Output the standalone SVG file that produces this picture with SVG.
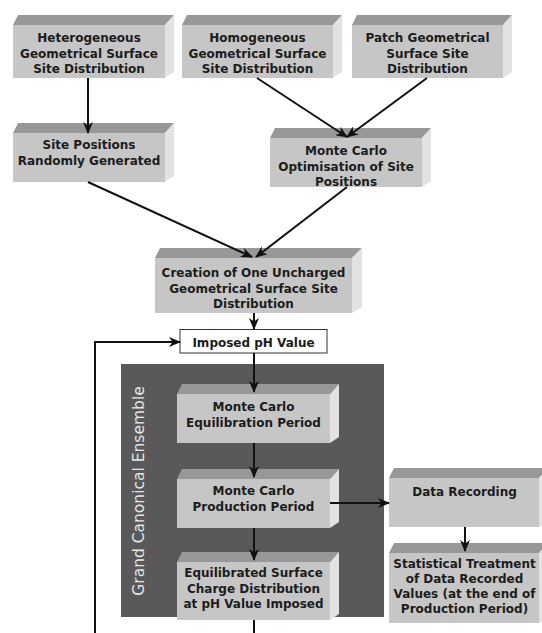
<svg xmlns="http://www.w3.org/2000/svg" width="542" height="633" viewBox="0 0 542 633">
<defs>
<style>
.front{fill:#c6c6c6}
.top{fill:#989898}
.side{fill:#e2e2e2}
.t{font-family:"DejaVu Sans",Verdana,sans-serif;font-weight:bold;font-size:12px;fill:#1c1c1c;text-anchor:middle}
.c{fill:none;stroke:#111;stroke-width:2}
</style>
<marker id="ah" viewBox="0 0 12 10" refX="11" refY="5" markerWidth="12" markerHeight="10" markerUnits="userSpaceOnUse" orient="auto">
<path d="M0,0 L12,5 L0,10 L3.5,5 z" fill="#111"/>
</marker>
</defs>
<rect width="542" height="633" fill="#fff"/>
<g id="ensemble">
<rect x="121" y="364" width="263" height="253" fill="#595959"/>
<text x="0" y="0" transform="translate(144,491) rotate(-90)" font-family="'DejaVu Sans',Verdana,sans-serif" font-size="15.5" fill="#e6e6e6" text-anchor="middle">Grand Canonical Ensemble</text>
</g>
<g id="n1">
<polygon class="top" points="13,25 18,15 174,15 165,25"/>
<polygon class="side" points="165,25 174,15 174,72 165,78"/>
<rect class="front" x="13" y="25" width="152" height="53"/>
<text class="t" x="89" y="42">Heterogeneous</text>
<text class="t" x="89" y="57.5">Geometrical Surface</text>
<text class="t" x="89" y="73">Site Distribution</text>
</g>
<g id="n2">
<polygon class="top" points="182,25 187,15 342,15 333,25"/>
<polygon class="side" points="333,25 342,15 342,72 333,78"/>
<rect class="front" x="182" y="25" width="151" height="53"/>
<text class="t" x="257.5" y="42">Homogeneous</text>
<text class="t" x="257.5" y="57.5">Geometrical Surface</text>
<text class="t" x="257.5" y="73">Site Distribution</text>
</g>
<g id="n3">
<polygon class="top" points="352,25 357,15 512,15 503,25"/>
<polygon class="side" points="503,25 512,15 512,72 503,78"/>
<rect class="front" x="352" y="25" width="151" height="53"/>
<text class="t" x="427.5" y="42">Patch Geometrical</text>
<text class="t" x="427.5" y="57.5">Surface Site</text>
<text class="t" x="427.5" y="73">Distribution</text>
</g>
<g id="n4">
<polygon class="top" points="13,133 18,123 174,123 165,133"/>
<polygon class="side" points="165,133 174,123 174,176 165,182"/>
<rect class="front" x="13" y="133" width="152" height="49"/>
<text class="t" x="89" y="149">Site Positions</text>
<text class="t" x="89" y="165">Randomly Generated</text>
</g>
<g id="n5">
<polygon class="top" points="270,138 275,128 431,128 422,138"/>
<polygon class="side" points="422,138 431,128 431,181 422,187"/>
<rect class="front" x="270" y="138" width="152" height="49"/>
<text class="t" x="346" y="155">Monte Carlo</text>
<text class="t" x="346" y="171">Optimisation of Site</text>
<text class="t" x="346" y="186">Positions</text>
</g>
<g id="n6">
<polygon class="top" points="155,258 160,248 362,248 352,258"/>
<polygon class="side" points="352,258 362,248 362,307 352,313"/>
<rect class="front" x="155" y="258" width="197" height="55"/>
<text class="t" x="253.5" y="277">Creation of One Uncharged</text>
<text class="t" x="253.5" y="293">Geometrical Surface Site</text>
<text class="t" x="253.5" y="308">Distribution</text>
</g>
<g id="n7">
<rect x="180" y="329.5" width="147" height="23.5" fill="#fff" stroke="#333" stroke-width="1"/>
<text class="t" x="253.5" y="347">Imposed pH Value</text>
</g>
<g id="n8">
<polygon class="top" points="177,394 182,384 339,384 330,394"/>
<polygon class="side" points="330,394 339,384 339,437 330,443"/>
<rect class="front" x="177" y="394" width="153" height="49"/>
<text class="t" x="253.5" y="411">Monte Carlo</text>
<text class="t" x="253.5" y="427">Equilibration Period</text>
</g>
<g id="n9">
<polygon class="top" points="177,479 182,469 339,469 330,479"/>
<polygon class="side" points="330,479 339,469 339,522 330,528"/>
<rect class="front" x="177" y="479" width="153" height="49"/>
<text class="t" x="253.5" y="495">Monte Carlo</text>
<text class="t" x="253.5" y="511">Production Period</text>
</g>
<g id="n10">
<polygon class="top" points="177,562 182,552 339,552 330,562"/>
<polygon class="side" points="330,562 339,552 339,614 330,620"/>
<rect class="front" x="177" y="562" width="153" height="58"/>
<text class="t" x="253.5" y="577">Equilibrated Surface</text>
<text class="t" x="253.5" y="593">Charge Distribution</text>
<text class="t" x="253.5" y="608">at pH Value Imposed</text>
</g>
<g id="n11">
<polygon class="top" points="389,478 394,468 548,468 539,478"/>
<polygon class="side" points="539,478 548,468 548,521 539,527"/>
<rect class="front" x="389" y="478" width="150" height="49"/>
<text class="t" x="464.5" y="496">Data Recording</text>
</g>
<g id="n12">
<polygon class="top" points="389,553 394,543 548,543 539,553"/>
<polygon class="side" points="539,553 548,543 548,617 539,623"/>
<rect class="front" x="389" y="553" width="150" height="70"/>
<text class="t" x="464.5" y="568">Statistical Treatment</text>
<text class="t" x="464.5" y="583">of Data Recorded</text>
<text class="t" x="464.5" y="598">Values (at the end of</text>
<text class="t" x="464.5" y="613">Production Period)</text>
</g>
<g id="connectors">
<path class="c" d="M88,78 L88,133" marker-end="url(#ah)"/>
<path class="c" d="M257,78 L347,137" marker-end="url(#ah)"/>
<path class="c" d="M427,78 L347,137" marker-end="url(#ah)"/>
<path class="c" d="M88,182 L252,257" marker-end="url(#ah)"/>
<path class="c" d="M347,187 L256,257" marker-end="url(#ah)"/>
<path class="c" d="M254,313 L254,329" marker-end="url(#ah)"/>
<path class="c" d="M254,353 L254,392" marker-end="url(#ah)"/>
<path class="c" d="M254,443 L254,477" marker-end="url(#ah)"/>
<path class="c" d="M254,528 L254,560" marker-end="url(#ah)"/>
<path class="c" d="M254,620 L254,633"/>
<path class="c" d="M95,633 L95,342 L180,342" marker-end="url(#ah)"/>
<path class="c" d="M330,503 L389,503" marker-end="url(#ah)"/>
<path class="c" d="M465,527 L465,551" marker-end="url(#ah)"/>
</g>
</svg>
